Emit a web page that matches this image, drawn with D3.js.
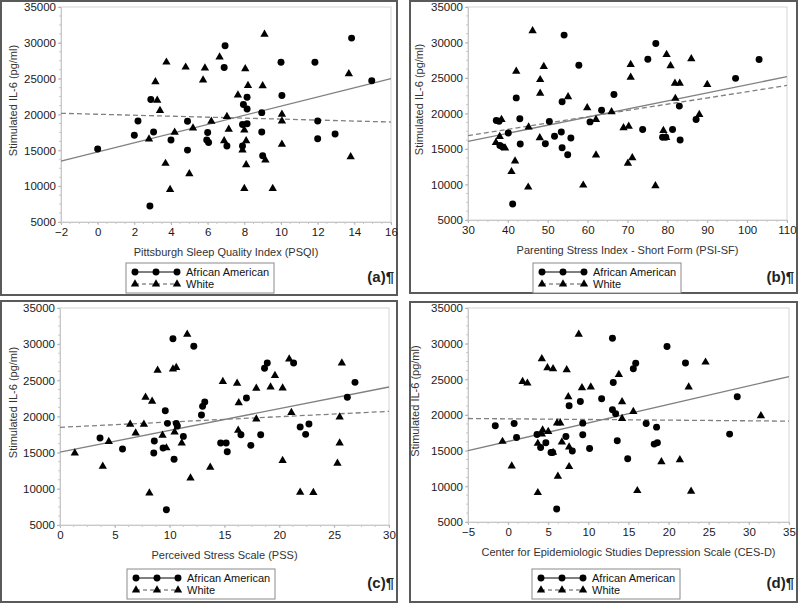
<!DOCTYPE html>
<html><head><meta charset="utf-8">
<script src="https://cdn.jsdelivr.net/npm/d3@7"></script>
<style>
body{margin:0;background:#fff;}
svg{display:block;font-family:"Liberation Sans",Arial,sans-serif;}
</style></head><body>
<svg id="chart" width="800" height="605"></svg>
<script>
// ---------- Data ----------
const yTicks = [5000,10000,15000,20000,25000,30000,35000];
const yLabel = "Stimulated IL-6 (pg/ml)";
const seriesNames = ["African American","White"];

// Panel (a) PSQI
const aXTicks = [-2,0,2,4,6,8,10,12,14,16];
const aAA = [[0,15200],[2,17100],[2.2,19100],[2.9,22100],[2.85,7240],[3.05,17550],[4,16430],[4.9,19050],[4.9,15030],
  [6,17500],[5.95,16430],[6.05,16100],[6.95,29600],[6.9,26560],[7.05,15600],[7.9,15600],[7.9,18600],[8.15,18700],
  [7.95,21400],[8.15,22400],[8.15,20770],[8.95,20260],[8.95,17550],[9,14240],[10,27300],[10.05,22640],[11.85,27300],
  [12,19090],[12,16620],[12.95,17270],[13.85,30660],[14.95,24700]];
const aWhite = [[3.75,27300],[4.8,26600],[3.15,24550],[3.25,21980],[3.4,20540],[2.8,16570],[3.7,13170],[3.95,9530],
  [4.2,17500],[5,11720],[5.2,18100],[5.75,24800],[5.85,26470],[6.2,19050],[6.65,28000],[6.9,16340],[7.05,19700],
  [7.15,17920],[7.65,22700],[7.9,15030],[8,17830],[8.05,26370],[8.1,16340],[8.1,12980],[8,9670],[8.2,24040],
  [9,24000],[9.1,31180],[9.15,13630],[9.55,9670],[10.05,20030],[10.05,19090],[10.05,15830],[13.7,25670],[13.8,14100]];
const aFitAA = [[-2,13500],[16,25000]];
const aFitWhite = [[-2,20170],[16,18950]];

// Panel (b) PSI-SF
const bXTicks = [30,40,50,60,70,80,90,100,110];
const bAA = [[37.1,19000],[37.8,18900],[38,15500],[38.6,15300],[40.1,17260],[41.2,7260],[42.1,22200],[43,19250],
  [43.1,15700],[50.4,18870],[49.4,15750],[51.7,16800],[53.4,17400],[53.6,21650],[53.6,15190],[54.1,31040],[55,14200],
  [55.8,16560],[57.8,26800],[60.6,18820],[63.5,20470],[66.6,22690],[73.8,17740],[75.1,27640],[77.1,29860],[78.8,16650],
  [79.6,16650],[81.3,17740],[83,21040],[83.2,16270],[87.2,19150],[97.1,24950],[103,27600]];
const bWhite = [[37,15900],[37.95,16750],[38.4,19150],[39.3,15140],[40.9,11800],[41.8,13300],[42.1,25940],[45.1,9620],
  [45.2,18100],[46.2,31650],[48.1,22830],[48.1,24760],[48,16560],[49,26600],[55.1,22360],[58.9,9900],[59.9,20800],
  [62.1,19150],[62.1,14150],[66,20240],[69,17970],[70.1,12970],[70.3,18200],[70.8,26900],[70.8,25100],[71.2,13770],
  [77,9810],[79,17600],[79.7,16600],[79.8,28300],[80.8,26700],[81.9,24250],[83.1,24250],[82,22120],[86,27690],
  [90,24060],[88,19860]];
const bFitAA = [[30,16080],[110,25190]];
const bFitWhite = [[30,16890],[110,23960]];

// Panel (c) PSS
const cXTicks = [0,5,10,15,20,25,30];
const cAA = [[3.65,17030],[5.7,15500],[8.6,16600],[8.55,14950],[9.4,15650],[9.6,20800],[9.8,19050],[9.7,7120],
  [10.3,30760],[10.4,14080],[10.6,19050],[10.7,18700],[11.25,17250],[12.2,29700],[12.9,20200],[13,21400],[13.2,22000],
  [14.65,16340],[15.15,16340],[15.25,15140],[16.5,17490],[17,22560],[17.4,16010],[18.3,17490],[18.65,26660],[18.9,27400],
  [21.3,27400],[21.9,18550],[22.4,17530],[22.7,18960],[26.2,22650],[26.9,24720]];
const cWhite = [[1.35,14950],[3.9,13100],[4.45,16520],[6.4,18920],[6.9,17720],[7.65,18920],[7.8,22650],[8.15,9420],
  [8.4,22100],[8.9,26380],[9.35,17400],[9.7,15650],[10.3,26570],[10.6,26750],[10.45,17860],[11.1,16340],[11.6,31360],
  [11.9,11500],[13.7,12970],[14.85,24820],[16.15,24600],[16.25,18090],[16.3,21900],[17.9,23900],[17.9,19650],[19.2,24080],
  [19.6,25650],[20.3,23940],[20.3,13900],[20.9,27950],[21.1,20530],[21.9,9520],[23.1,9470],[25.3,13530],[25.5,16340],
  [25.5,19930],[25.7,27400]];
const cFitAA = [[0,15090],[30,24080]];
const cFitWhite = [[0,18500],[30,20710]];

// Panel (d) CES-D
const dXTicks = [-5,0,5,10,15,20,25,30,35];
const dAA = [[-1.6,18490],[0.75,18810],[1.05,16850],[3.6,17270],[4.05,15450],[4.7,16110],[5.35,14750],[5.55,14750],
  [6.05,6820],[7.2,17000],[7.6,21290],[8,14940],[9,21890],[9.3,18860],[9.3,17230],[10.15,15310],[11.65,22270],[13,30760],
  [13.1,24550],[13,20730],[13.4,20170],[13.6,16390],[14.9,13870],[15.6,26470],[15.9,27260],[17.2,18810],[18.5,18300],
  [18.2,15920],[18.6,16110],[19.8,29590],[22.1,27300],[27.6,17320],[28.55,22550]];
const dWhite = [[-0.7,16290],[0.45,12840],[1.8,24690],[2.4,24460],[3.7,16010],[3.7,9110],[4.2,27870],[4.2,17320],
  [4.3,17880],[4.9,26610],[5,17690],[5.6,26470],[5.6,14750],[6.1,18860],[6.2,11390],[6.5,18860],[6.7,16200],[7.3,26330],
  [7.5,22550],[7.6,15500],[7.6,12750],[8.8,31320],[9.2,23800],[10.3,23900],[13.8,25670],[14.2,21850],[14.2,19510],
  [15.6,20490],[16.1,9390],[19.1,13450],[21.4,13730],[22.5,23900],[22.8,9290],[24.6,27400],[31.5,19890]];
const dFitAA = [[-5,14990],[35,25390]];
const dFitWhite = [[-5,19510],[35,19140]];

const xLabels = ["Pittsburgh Sleep Quality Index (PSQI)","Parenting Stress Index - Short Form (PSI-SF)",
  "Perceived Stress Scale (PSS)","Center for Epidemiologic Studies Depression Scale (CES-D)"];
const panelTags = ["(a)¶","(b)¶","(c)¶","(d)¶"];

// ---------- Layout ----------
const panels = [
  {box:[1,1,397,295], plot:[61,7,391,222], ylabX:13, ticks:aXTicks, aa:aAA, wh:aWhite, fAA:aFitAA, fWh:aFitWhite, legX:126, legY:263},
  {box:[410,1,797,293], plot:[468,7,787,220], ylabX:419, ticks:bXTicks, aa:bAA, wh:bWhite, fAA:bFitAA, fWh:bFitWhite, legX:533, legY:263},
  {box:[1,301,397,602], plot:[60,308,389,525], ylabX:13, ticks:cXTicks, aa:cAA, wh:cWhite, fAA:cFitAA, fWh:cFitWhite, legX:127, legY:569},
  {box:[410,302,797,602], plot:[468,308,789,522], ylabX:415, ticks:dXTicks, aa:dAA, wh:dWhite, fAA:dFitAA, fWh:dFitWhite, legX:532, legY:569}
];

const svg = d3.select("#chart");
const circleSym = d3.symbol().type(d3.symbolCircle).size(38);
const triSym = d3.symbol().type(d3.symbolTriangle).size(30);

panels.forEach((p,i)=>{
  const g = svg.append("g");
  const [bx0,by0,bx1,by1] = p.box;
  g.append("rect").attr("x",bx0).attr("y",by0).attr("width",bx1-bx0).attr("height",by1-by0)
    .attr("fill","#fff").attr("stroke","#5a5a5a").attr("stroke-width",2);
  const [px0,py0,px1,py1] = p.plot;
  const x = d3.scaleLinear().domain(d3.extent(p.ticks)).range([px0,px1]);
  const y = d3.scaleLinear().domain(d3.extent(yTicks)).range([py1,py0]);

  // plot frame
  g.append("rect").attr("x",px0).attr("y",py0).attr("width",px1-px0).attr("height",py1-py0)
    .attr("fill","none").attr("stroke","#d4d4d4").attr("stroke-width",1);

  // minor ticks
  const xStep = p.ticks[1]-p.ticks[0];
  const xMinor = d3.range(p.ticks[0], p.ticks[p.ticks.length-1]+1e-9, xStep/4);
  g.append("g").selectAll("line").data(xMinor).join("line")
    .attr("x1",d=>x(d)).attr("x2",d=>x(d)).attr("y1",py1).attr("y2",py1+2)
    .attr("stroke","#c8c8c8").attr("stroke-width",1);
  const yMinor = d3.range(5000, 35001, 1250);
  g.append("g").selectAll("line").data(yMinor).join("line")
    .attr("x1",px0-2).attr("x2",px0).attr("y1",d=>y(d)).attr("y2",d=>y(d))
    .attr("stroke","#c8c8c8").attr("stroke-width",1);

  // axes
  const xa = g.append("g").attr("transform",`translate(0,${py1})`)
    .call(d3.axisBottom(x).tickValues(p.ticks).tickSize(3).tickPadding(3).tickFormat(d3.format("d")));
  const ya = g.append("g").attr("transform",`translate(${px0},0)`)
    .call(d3.axisLeft(y).tickValues(yTicks).tickSize(3).tickPadding(2).tickFormat(d3.format("d")));
  [xa,ya].forEach(a=>{
    a.select(".domain").attr("stroke","#c8c8c8");
    a.selectAll(".tick line").attr("stroke","#b8b8b8");
    a.selectAll("text").attr("fill","#1a1a1a").attr("font-size","11.5px").attr("font-family","Liberation Sans, Arial, sans-serif");
  });

  // axis labels
  g.append("text").attr("x",(px0+px1)/2).attr("y",py1+34).attr("text-anchor","middle")
    .attr("font-size","11px").attr("fill","#333").text(xLabels[i]);
  const yc = (py0+py1)/2 - 14;
  g.append("text").attr("transform",`translate(${p.ylabX+4},${yc}) rotate(-90)`).attr("text-anchor","middle")
    .attr("font-size","11px").attr("fill","#333").text(yLabel);

  // regression lines
  const line = d3.line().x(d=>x(d[0])).y(d=>y(d[1]));
  g.append("path").datum(p.fWh).attr("d",line).attr("fill","none").attr("stroke","#808080")
    .attr("stroke-width",1.3).attr("stroke-dasharray","5,3");
  g.append("path").datum(p.fAA).attr("d",line).attr("fill","none").attr("stroke","#808080")
    .attr("stroke-width",1.3);

  // points
  g.append("g").selectAll("path").data(p.aa).join("path")
    .attr("d",circleSym).attr("transform",d=>`translate(${x(d[0])},${y(d[1])})`).attr("fill","#000");
  g.append("g").selectAll("path").data(p.wh).join("path")
    .attr("d",triSym).attr("transform",d=>`translate(${x(d[0])},${y(d[1])})`).attr("fill","#000");

  // legend
  const lg = g.append("g").attr("transform",`translate(${p.legX},${p.legY})`);
  lg.append("rect").attr("x",0).attr("y",0).attr("width",148).attr("height",30)
    .attr("fill","#fff").attr("stroke","#8a8a8a").attr("stroke-width",1);
  const legRows = [{name:seriesNames[0], sym:circleSym, dash:null, color:"#000", yy:9},
                   {name:seriesNames[1], sym:triSym, dash:"4,3", color:"#555", yy:21}];
  legRows.forEach(r=>{
    lg.append("line").attr("x1",9).attr("x2",51).attr("y1",r.yy).attr("y2",r.yy)
      .attr("stroke",r.color).attr("stroke-width",1).attr("stroke-dasharray",r.dash);
    [9,30,51].forEach(sx=>{
      lg.append("path").attr("d",r.sym).attr("transform",`translate(${sx},${r.yy})`).attr("fill","#000");
    });
    lg.append("text").attr("x",60).attr("y",r.yy+4).attr("font-size","11px").attr("fill","#111").text(r.name);
  });

  // panel tag
  g.append("text").attr("x",bx1-3).attr("y",p.legY+19).attr("text-anchor","end")
    .attr("font-size","15px").attr("font-weight","bold").attr("fill","#222").text(panelTags[i]);
});
</script>
</body></html>
